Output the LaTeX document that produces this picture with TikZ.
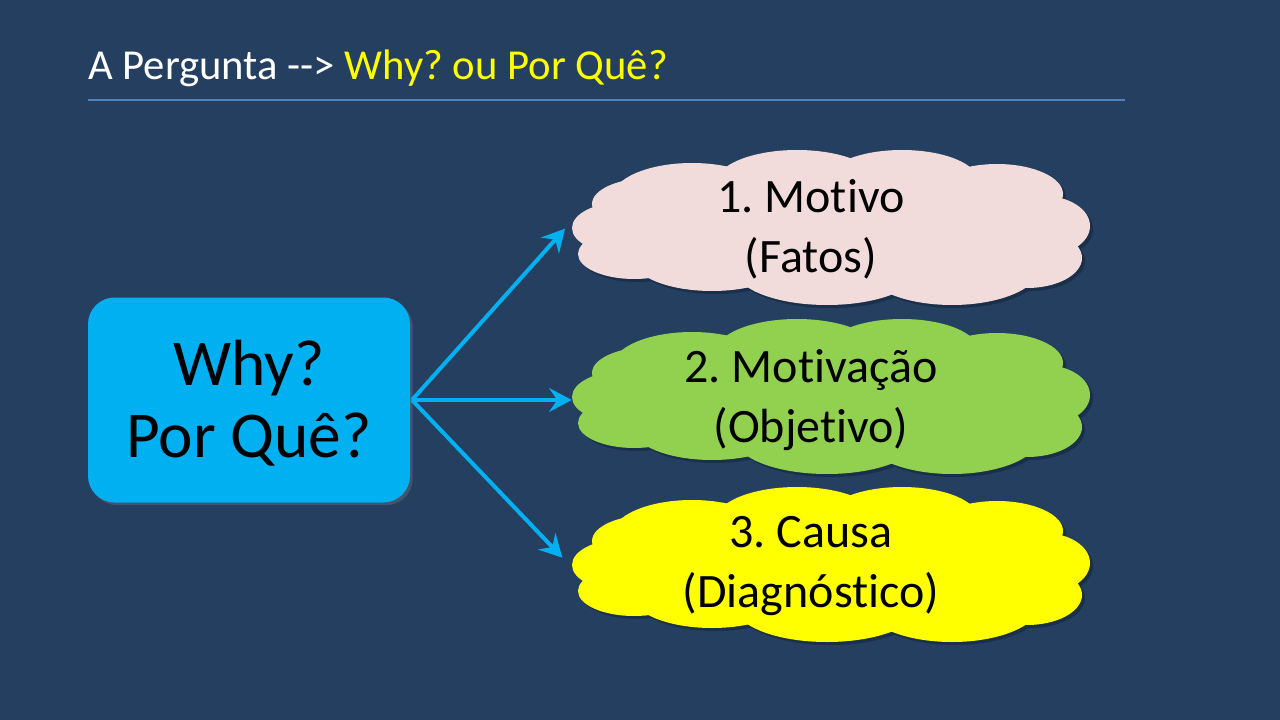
\documentclass[tikz,border=0pt]{standalone}
\usepackage{fontspec}
\setmainfont{Carlito}[Ligatures=NoCommon]
\usetikzlibrary{arrows.meta,shadows}
\definecolor{bg}{HTML}{253F61}
\definecolor{shadowc}{HTML}{1A2F4A}
\definecolor{boxblue}{HTML}{00B0F0}
\definecolor{rulec}{HTML}{4F81BD}
\definecolor{pinkc}{HTML}{F2DCDB}
\definecolor{greenc}{HTML}{92D050}
\definecolor{yellowc}{HTML}{FFFF00}
\newcommand{\cloudlobes}[3]{%
  % #1,#2 = top-left corner (px), #3 = fill colour
  \foreach \ex/\ey/\rx/\ry in {259/80/220/55, 120/50/80/35, 225/36/82/34, 330/33/76/31, 425/46/66/30,
      472/78/46/30, 455/110/55/30, 380/119/88/38, 255/121/92/36, 140/110/80/33,
      52/80/52/26, 62/106/56/25, 78/56/58/26}
    {\fill[#3] (#1+\ex,#2+\ey) ellipse [x radius=\rx, y radius=\ry];}%
}
\begin{document}
\frenchspacing
\begin{tikzpicture}[x=0.75pt,y=-0.75pt,
  cloudtext/.style={font=\fontsize{36}{45}\selectfont, align=center, text=black},
  cloudslot/.style={rectangle, minimum width=518*0.75pt, minimum height=157*0.75pt, inner sep=0pt},
  conn/.style={draw=boxblue, line width=3pt, -{Stealth[length=17pt, width=18pt, inset=6pt]}}]
\fill[bg] (0,0) rectangle (1280,720);
\useasboundingbox (0,0) rectangle (1280,720);
% title
\node[anchor=base west, inner sep=0pt, font=\fontsize{32}{38}\selectfont] (title) at (88,80)
  {\textcolor{white}{A Pergunta -{}-> }\textcolor{yellowc}{Why? ou Por Quê?}};
\coordinate (rl) at (88,100);
\coordinate (rr) at (1125,100);
\draw[rulec, line width=0.9pt] (rl) -- (rr);
% main box
\node[draw=none, fill=boxblue, rounded corners=20pt, minimum width=322*0.75pt, minimum height=205*0.75pt,
  drop shadow={opacity=0.35, shadow xshift=2pt, shadow yshift=-2pt}] (why) at (249,400) {};
\node[align=center, font=\fontsize{49}{54}\selectfont, text=black] (whyt) at (249,403) {Why?\\Por Quê?};
% clouds: shadows then fills
\cloudlobes{575}{151}{shadowc}
\cloudlobes{575}{320}{shadowc}
\cloudlobes{575}{488}{shadowc}
\cloudlobes{572}{148}{pinkc}
\cloudlobes{572}{317}{greenc}
\cloudlobes{572}{485}{yellowc}
\node[cloudslot] (c1) at (831,226) {};
\node[cloudslot] (c2) at (831,395) {};
\node[cloudslot] (c3) at (831,563) {};
\node[cloudtext] (t1) at (811,229) {1. Motivo\\(Fatos)};
\node[cloudtext] (t2) at (811,400) {2. Motivação\\(Objetivo)};
\node[cloudtext] (t3) at (811,566) {3. Causa\\(Diagnóstico)};
% connectors
\coordinate (s) at (412,400);
\draw[conn] (s) -- ([xshift=-5pt,yshift=-2pt]c1.west);
\draw[conn] (s) -- (c2.west |- s);
\draw[conn] (s) -- ([xshift=-7pt,yshift=4pt]c3.west);
\end{tikzpicture}
\end{document}
